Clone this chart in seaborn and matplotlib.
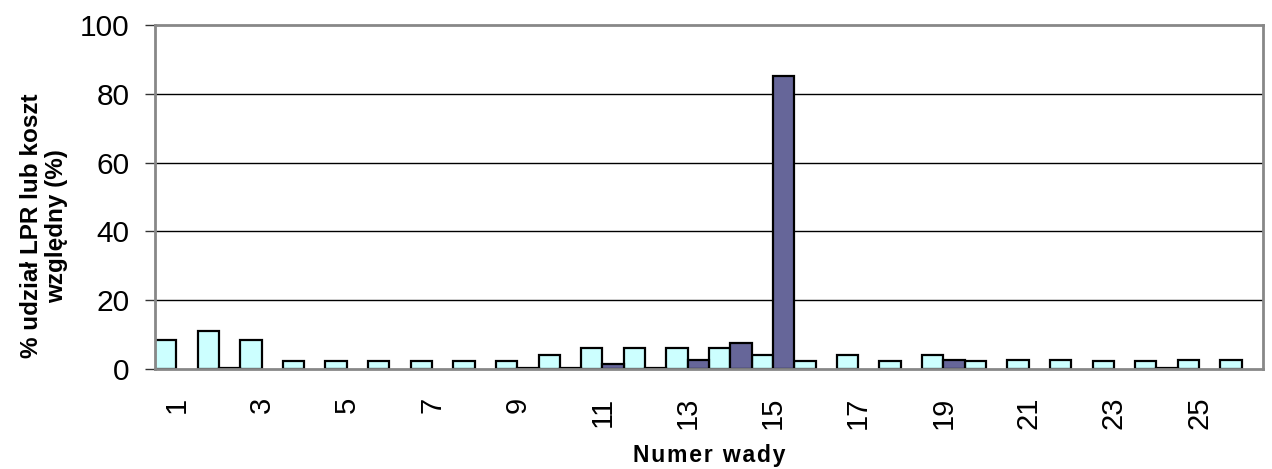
import numpy as np
import pandas as pd
import matplotlib
matplotlib.use("Agg")
import matplotlib.pyplot as plt
import seaborn as sns

# Defect numbers and the two series plotted per defect
defects = list(range(1, 27))
lpr_share = [8.3, 11.0, 8.3, 2.3, 2.3, 2.3, 2.3, 2.3, 2.3, 4.2,
             6.1, 6.1, 6.1, 6.1, 4.2, 2.3, 4.2, 2.3, 4.2, 2.3,
             2.7, 2.7, 2.3, 2.3, 2.7, 2.7]
relative_cost = [0.0, 0.3, 0.0, 0.0, 0.0, 0.0, 0.0, 0.0, 0.3, 0.4,
                 1.5, 0.3, 2.5, 7.6, 85.2, 0.0, 0.0, 0.0, 2.7, 0.0,
                 0.0, 0.0, 0.0, 0.3, 0.0, 0.0]
series_names = ["% udział LPR", "koszt względny"]
odd_labels = [str(d) for d in defects if d % 2 == 1]
y_ticks = [0, 20, 40, 60, 80, 100]

df = pd.DataFrame({
    "wada": [str(d) for d in defects] * 2,
    "seria": [series_names[0]] * len(defects) + [series_names[1]] * len(defects),
    "wartosc": lpr_share + relative_cost,
})
# zero-valued entries are simply not drawn
df_plot = df[df["wartosc"] > 0]

sns.set_theme(style="white")
plt.rcParams["font.family"] = ["Liberation Sans", "DejaVu Sans"]
plt.rcParams["text.color"] = "black"
plt.rcParams["axes.labelcolor"] = "black"
plt.rcParams["xtick.color"] = "black"
plt.rcParams["ytick.color"] = "black"

fig = plt.figure(figsize=(12.72, 4.69), dpi=100)
ax = fig.add_axes([155 / 1272, 1 - 369 / 469, (1263 - 155) / 1272, (369 - 25) / 469])

sns.barplot(
    data=df_plot, x="wada", y="wartosc", hue="seria",
    order=[str(d) for d in defects], hue_order=series_names,
    palette=["#CCFFFF", "#666699"], width=1.0, gap=0,
    edgecolor="black", linewidth=1.6, saturation=1, ax=ax, legend=False,
    zorder=3,
)

ax.set_xlim(-0.5, len(defects) - 0.5)
ax.set_ylim(0, 100)
ax.set_yticks(y_ticks)
ax.set_yticklabels([str(t) for t in y_ticks], fontsize=21.5)

# labels on odd defect numbers, tick marks on category boundaries
ax.set_xticks([i for i, d in enumerate(defects) if d % 2 == 1])
ax.set_xticklabels(odd_labels, rotation=90, fontsize=21)
ax.set_xticks(np.arange(-0.5, len(defects)), minor=True)
ax.tick_params(axis="x", which="major", length=0, pad=20)
ax.tick_params(axis="x", which="minor", length=7.5, width=1.0, color="#333333", direction="out")
ax.tick_params(axis="y", which="major", length=7.5, width=1.0, color="#333333",
               direction="out", pad=11, left=True)

for v in y_ticks[1:-1]:
    ax.axhline(v, color="black", linewidth=1.0, zorder=1)

for side in ["left", "right", "top", "bottom"]:
    ax.spines[side].set_visible(True)
    ax.spines[side].set_color("#888888")
    ax.spines[side].set_linewidth(2.0)
    ax.spines[side].set_zorder(4)

# letter-spaced axis title
ax.set_xlabel("\u200a".join("Numer wady"), fontsize=16.5, fontweight="bold",
              family=["Liberation Sans", "DejaVu Sans"])
ax.xaxis.set_label_coords(0.5, -0.219)
ax.set_ylabel("% udział LPR lub koszt\nwzględny (%)", fontsize=17.5, fontweight="bold",
              linespacing=1.15)
ax.yaxis.set_label_coords(-0.078, 0.415)

fig.savefig("out.png", dpi=100, facecolor="white")
